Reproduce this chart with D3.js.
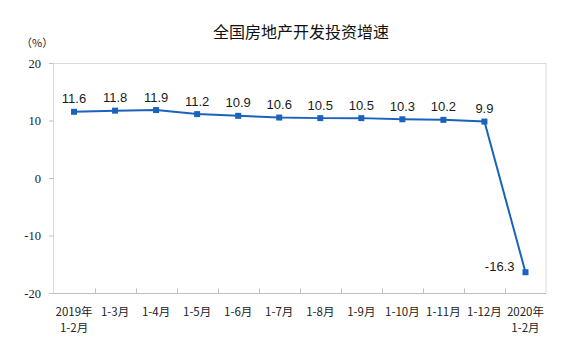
<!DOCTYPE html>
<html><head><meta charset="utf-8">
<script src="https://cdn.jsdelivr.net/npm/d3@7"></script>
<style>body{margin:0;background:#fff}svg{display:block}</style>
</head><body>
<script>
const categories = ["2019年|1-2月","1-3月","1-4月","1-5月","1-6月","1-7月","1-8月","1-9月","1-10月","1-11月","1-12月","2020年|1-2月"];
const values = [11.6, 11.8, 11.9, 11.2, 10.9, 10.6, 10.5, 10.5, 10.3, 10.2, 9.9, -16.3];
const yTicks = [20, 10, 0, -10, -20];
const title = "全国房地产开发投资增速";
const unit = "（%）";

const W = 568, H = 355;
const svg = d3.select("body").append("svg").attr("width", W).attr("height", H);
const x = d3.scaleBand().domain(categories).range([53.5, 546]).padding(0);
const y = d3.scaleLinear().domain([-20, 20]).range([293.5, 63.5]);
const blue = "#1a63bd";

svg.append("text").attr("x", 301).attr("y", 31).attr("text-anchor", "middle")
  .attr("dominant-baseline", "central")
  .style("font-family", "'Noto Sans CJK SC'").style("font-size", "16px").attr("fill", "#111").text(title);
svg.append("text").attr("x", 21).attr("y", 42).attr("dominant-baseline", "central")
  .style("font-family", "'Noto Sans CJK SC'").style("font-size", "11px").attr("fill", "#222").text(unit);

// plot border
svg.append("rect").attr("x", 53.5).attr("y", 63.5).attr("width", 492.5).attr("height", 230)
  .attr("fill", "none").attr("stroke", "#d9d9d9");
svg.append("line").attr("x1", 53.5).attr("x2", 546).attr("y1", 293.5).attr("y2", 293.5).attr("stroke", "#bfbfbf");

// y axis
const ya = svg.append("g");
yTicks.forEach(t => {
  ya.append("line").attr("x1", 49).attr("x2", 53.5).attr("y1", y(t)).attr("y2", y(t)).attr("stroke", "#bfbfbf");
  ya.append("text").attr("x", 41).attr("y", y(t)).attr("text-anchor", "end").attr("dominant-baseline", "central")
    .style("font-family", "'Liberation Serif'").style("font-size", "12.5px").attr("fill", "#222").text(t);
});

// x ticks (between categories, inward)
categories.slice(1).forEach(c => {
  svg.append("line").attr("x1", Math.round(x(c)) + 0.5).attr("x2", Math.round(x(c)) + 0.5)
    .attr("y1", 293.5).attr("y2", 288.5).attr("stroke", "#bfbfbf");
});
// x labels
categories.forEach(c => {
  const parts = c.split("|");
  const t = svg.append("text").attr("text-anchor", "middle")
    .style("font-family", "'Noto Sans CJK SC'").style("font-size", "11.5px").attr("fill", "#222");
  parts.forEach((p, i) => {
    t.append("tspan").attr("x", x(c) + x.bandwidth() / 2).attr("y", 316 + i * 16).text(p);
  });
});

const cx = d => x(categories[d.i]) + x.bandwidth() / 2;
const data = values.map((v, i) => ({ v, i }));
svg.append("path").datum(data)
  .attr("d", d3.line().x(cx).y(d => y(d.v)))
  .attr("fill", "none").attr("stroke", blue).attr("stroke-width", 2);
svg.selectAll("rect.m").data(data).enter().append("rect").attr("class", "m")
  .attr("x", d => cx(d) - 3).attr("y", d => y(d.v) - 3).attr("width", 6).attr("height", 6).attr("fill", blue);
svg.selectAll("text.l").data(data).enter().append("text").attr("class", "l")
  .attr("x", d => d.v < 0 ? cx(d) - 11 : cx(d))
  .attr("y", d => d.v < 0 ? y(d.v) - 6 : y(d.v) - 13)
  .attr("text-anchor", d => d.v < 0 ? "end" : "middle").attr("dominant-baseline", "central")
  .style("font-family", "'Liberation Sans'").style("font-size", "13px").attr("fill", "#1a1a1a")
  .text(d => d.v.toFixed(1));
</script>
</body></html>
